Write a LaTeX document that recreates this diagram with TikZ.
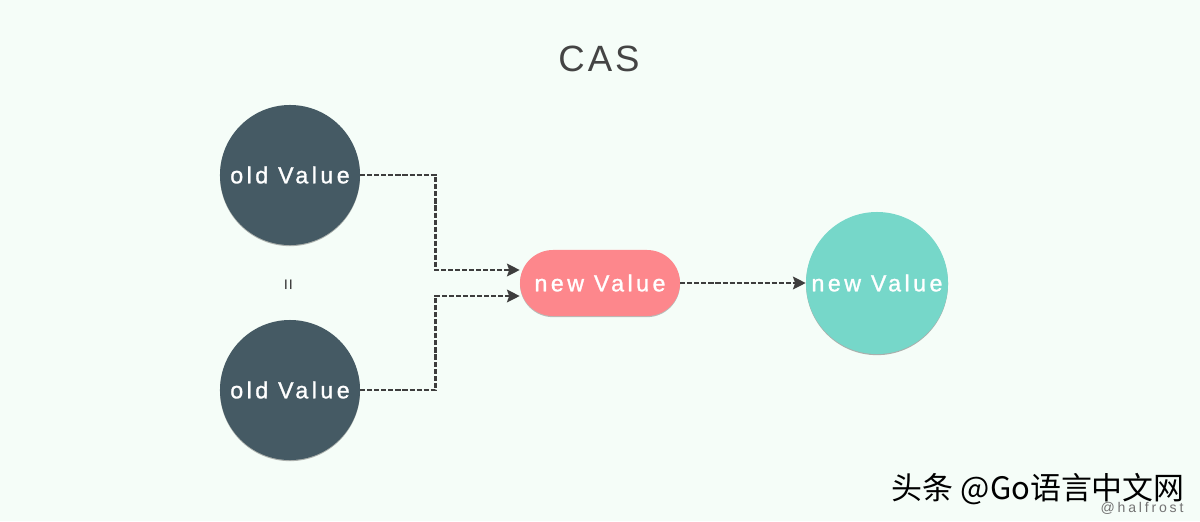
\documentclass[tikz,border=0pt]{standalone}
\usepackage{fontspec}
\setmainfont{Liberation Sans}
\newfontfamily\valuefont[LetterSpace=15,FakeBold=1.2]{Liberation Sans}
\newfontfamily\titlefont[LetterSpace=8]{Liberation Sans}
\newfontfamily\tagfont[LetterSpace=20]{Liberation Sans}
\newfontfamily\cjkfont{Noto Sans CJK SC}
\usetikzlibrary{arrows.meta,shadows}
\definecolor{bgmint}{HTML}{F5FDF8}
\definecolor{slateval}{HTML}{455A64}
\definecolor{salmonval}{HTML}{FD878C}
\definecolor{tealval}{HTML}{76D7C9}
\definecolor{linkgray}{HTML}{3D3D3D}
\definecolor{titlegray}{HTML}{444444}

\begin{document}
\begin{tikzpicture}[x=0.025cm,y=-0.025cm,
  valtext/.style={text=white, inner sep=0pt, font=\valuefont\fontsize{16.5pt}{19pt}\selectfont},
  oldval/.style={valtext, circle, fill=slateval, minimum size=3.5cm,
    drop shadow={shadow xshift=0pt, shadow yshift=-0.8pt, opacity=0.3, fill=black}},
  newval/.style={valtext, rounded corners=0.825cm, fill=salmonval, minimum width=4cm, minimum height=1.65cm,
    drop shadow={shadow xshift=0pt, shadow yshift=-0.8pt, opacity=0.25, fill=black}},
  doneval/.style={valtext, circle, fill=tealval, minimum size=3.55cm,
    drop shadow={shadow xshift=0pt, shadow yshift=-0.8pt, opacity=0.3, fill=black}},
  link/.style={draw=linkgray, line width=1.7pt, dash pattern=on 3.6pt off 1.4pt,
    -{Stealth[length=9pt,width=9pt,inset=1.5pt]}}]
% background and margins
\fill[bgmint] (0,0) rectangle (1200,521);
\node[font=\titlefont\fontsize{26pt}{30pt}\selectfont, text=titlegray] (title) at (599,59) {CAS};
% values
\node[oldval] (old1) at (290,175) {old Value};
\node[oldval] (old2) at (290,390) {old Value};
\node[rotate=90, text=linkgray, font=\fontsize{14pt}{16pt}\selectfont] (eq) at (290,285) {=};
\node[newval] (new) at (600,283) {new Value};
\node[doneval] (done) at (877,283) {new Value};
% connectors
\draw[link] (old1.east) -- ++(75,0) |- ([yshift=0.325cm]new.west);
\draw[link] (old2.east) -- ++(75,0) |- ([yshift=-0.325cm]new.west);
\draw[link] (new.east) -- (done.west);
% watermark
\node[anchor=west, font=\cjkfont\fontsize{22pt}{26pt}\selectfont] (mark) at (887,489) {头条 @Go语言中文网};
\node[text=gray!90!black, font=\tagfont\fontsize{10pt}{12pt}\selectfont] (tag) at (1142,508) {@halfrost};
\end{tikzpicture}
\end{document}
